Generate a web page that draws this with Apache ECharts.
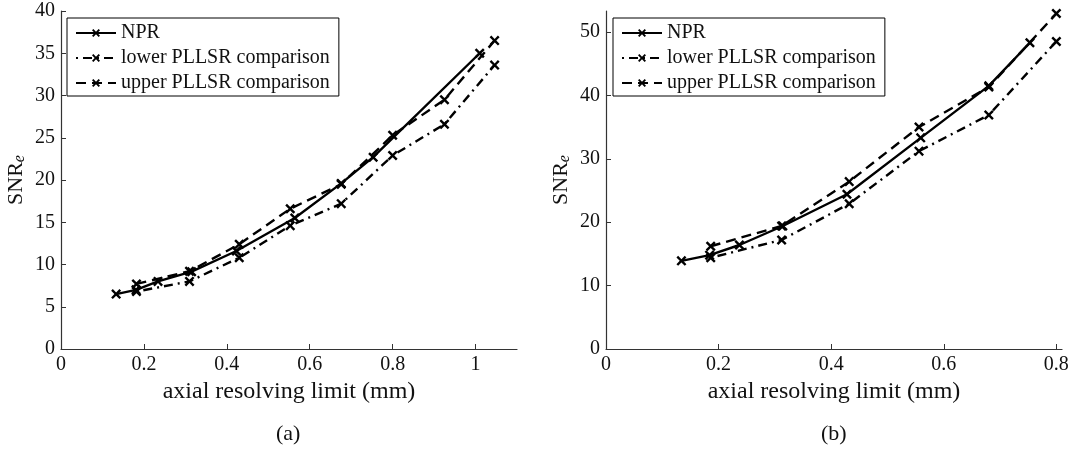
<!DOCTYPE html>
<html>
<head>
<meta charset="utf-8">
<script src="https://cdn.jsdelivr.net/npm/echarts@6/dist/echarts.min.js"></script>
<style>
html,body{margin:0;padding:0;background:#fff;}
#c{width:1076px;height:452px;}
</style>
</head>
<body>
<div id="c"></div>
<script>
// ---- data ----
const seriesNames = ['NPR', 'lower PLLSR comparison', 'upper PLLSR comparison'];
const leftNprX = [0.133, 0.181, 0.234, 0.315, 0.423, 0.564, 0.676, 0.753, 1.01];
const leftNprY = [6.5, 7.0, 8.0, 9.15, 11.6, 15.5, 19.6, 22.7, 35.0];
const leftPllsrX = [0.182, 0.31, 0.43, 0.553, 0.676, 0.80, 0.925, 1.046];
const leftLowerY = [6.8, 8.0, 10.8, 14.6, 17.2, 22.9, 26.6, 33.6];
const leftUpperY = [7.7, 9.2, 12.4, 16.6, 19.5, 25.3, 29.5, 36.5];

const rightNprX = [0.134, 0.184, 0.237, 0.314, 0.428, 0.559, 0.68, 0.753];
const rightNprY = [13.9, 14.8, 16.4, 19.4, 24.4, 33.3, 41.5, 48.3];
const rightPllsrX = [0.186, 0.312, 0.432, 0.556, 0.68, 0.80];
const rightLowerY = [14.4, 17.2, 22.9, 31.2, 36.9, 48.5];
const rightUpperY = [16.2, 19.4, 26.4, 35.0, 41.3, 52.9];

const xLabel = 'axial resolving limit (mm)';
const panelLabels = ['(a)', '(b)'];

// ---- helpers ----
const zip = (xs, ys) => xs.map((x, i) => [x, ys[i]]);
const SERIF = '"Liberation Serif", "Times New Roman", serif';
const XMARK = 'path://M0,1.7 L1.7,0 L5,3.3 L8.3,0 L10,1.7 L6.7,5 L10,8.3 L8.3,10 L5,6.7 L1.7,10 L0,8.3 L3.3,5 Z';
const lineTypes = ['solid', [2, 5, 9, 5], [10, 6]];

function mkSeries(name, data, idx) {
  const t = seriesNames.indexOf(name);
  return {
    type: 'line', name: name, data: data,
    xAxisIndex: idx, yAxisIndex: idx,
    symbol: XMARK, symbolSize: 10, showSymbol: true,
    itemStyle: { color: '#000' },
    lineStyle: { color: '#000', width: 2.4, type: lineTypes[t] },
    animation: false, z: 3 - t
  };
}

const axisCommon = {
  axisLine: { show: true, lineStyle: { color: '#333', width: 1.2 } },
  axisTick: { show: true, inside: true, length: 5, lineStyle: { color: '#333' } },
  splitLine: { show: false },
  axisLabel: { color: '#111', fontFamily: SERIF, fontSize: 20, showMaxLabel: false }
};

function xAxis(idx, max) {
  return Object.assign({}, axisCommon, {
    type: 'value', gridIndex: idx, min: 0, max: max, interval: 0.2,
    name: xLabel, nameLocation: 'middle', nameGap: 24,
    nameTextStyle: { color: '#111', fontFamily: SERIF, fontSize: 24 },
    axisLabel: Object.assign({}, axisCommon.axisLabel, { margin: 6 })
  });
}
function yAxis(idx, max, interval) {
  return Object.assign({}, axisCommon, {
    type: 'value', gridIndex: idx, min: 0, max: max, interval: interval,
    name: '{m|SNR}{s|e}', nameLocation: 'middle', nameGap: 33, nameRotate: 90,
    nameTextStyle: {
      color: '#111',
      rich: {
        m: { fontFamily: SERIF, fontSize: 22, color: '#111' },
        s: { fontFamily: SERIF, fontSize: 16, fontStyle: 'italic', color: '#111', padding: [8, 0, 0, 0] }
      }
    },
    axisLabel: Object.assign({}, axisCommon.axisLabel, { margin: 6, showMaxLabel: max % interval === 0 })
  });
}
function legend(left) {
  return {
    orient: 'vertical', left: left, top: 18,
    data: seriesNames,
    backgroundColor: '#fff', borderColor: '#000', borderWidth: 1, borderRadius: 0,
    padding: [5, 9, 3, 8], itemGap: 5, itemWidth: 40, itemHeight: 10,
    textStyle: { fontFamily: SERIF, fontSize: 20, color: '#111', lineHeight: 19 },
    selectedMode: false
  };
}

const chart = echarts.init(document.getElementById('c'), null, { renderer: 'canvas' });
chart.setOption({
  backgroundColor: '#fff',
  animation: false,
  grid: [
    { left: 61, top: 11, width: 456, height: 338 },
    { left: 606, top: 11, width: 456, height: 338 }
  ],
  xAxis: [xAxis(0, 1.1), xAxis(1, 0.81)],
  yAxis: [yAxis(0, 40, 5), yAxis(1, 53.3, 10)],
  legend: [legend(67), legend(613)],
  series: [
    mkSeries(seriesNames[0], zip(leftNprX, leftNprY), 0),
    mkSeries(seriesNames[1], zip(leftPllsrX, leftLowerY), 0),
    mkSeries(seriesNames[2], zip(leftPllsrX, leftUpperY), 0),
    mkSeries(seriesNames[0], zip(rightNprX, rightNprY), 1),
    mkSeries(seriesNames[1], zip(rightPllsrX, rightLowerY), 1),
    mkSeries(seriesNames[2], zip(rightPllsrX, rightUpperY), 1)
  ],
  graphic: [
    { type: 'text', left: 276, top: 423, style: { text: panelLabels[0], font: '22px ' + SERIF, fill: '#111' } },
    { type: 'text', left: 821, top: 423, style: { text: panelLabels[1], font: '22px ' + SERIF, fill: '#111' } }
  ]
});
</script>
</body>
</html>
